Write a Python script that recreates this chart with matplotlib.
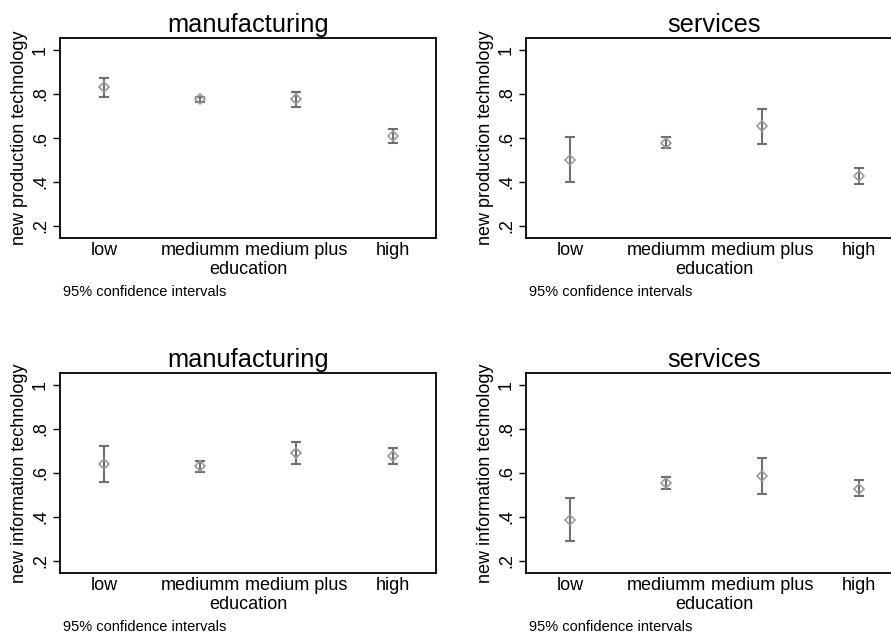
import matplotlib
matplotlib.use("Agg")
import matplotlib.pyplot as plt

plt.rcParams['font.family'] = ['Liberation Sans', 'DejaVu Sans']

# education categories
categories = ["low", "mediumm", "medium plus", "high"]
yticks = [0.2, 0.4, 0.6, 0.8, 1.0]
yticklabels = [".2", ".4", ".6", ".8", "1"]

# new production technology, manufacturing
prod_manu_mean = [0.830, 0.776, 0.776, 0.609]
prod_manu_lo = [0.786, 0.762, 0.742, 0.579]
prod_manu_hi = [0.874, 0.788, 0.810, 0.640]

# new production technology, services
prod_serv_mean = [0.500, 0.579, 0.653, 0.427]
prod_serv_lo = [0.401, 0.553, 0.574, 0.391]
prod_serv_hi = [0.603, 0.606, 0.733, 0.465]

# new information technology, manufacturing
info_manu_mean = [0.642, 0.630, 0.689, 0.678]
info_manu_lo = [0.559, 0.603, 0.639, 0.641]
info_manu_hi = [0.725, 0.656, 0.739, 0.713]

# new information technology, services
info_serv_mean = [0.387, 0.553, 0.586, 0.529]
info_serv_lo = [0.289, 0.526, 0.503, 0.494]
info_serv_hi = [0.487, 0.582, 0.669, 0.567]

W, H = 891, 639
fig = plt.figure(figsize=(W / 100, H / 100), dpi=100)


def panel(left_px, top_px, title, ylabel, mean, lo, hi):
    ax = fig.add_axes([left_px / W, 1 - (top_px + 200) / H, 376 / W, 200 / H])
    x = list(range(1, len(categories) + 1))
    err = [[m - l for m, l in zip(mean, lo)], [h - m for m, h in zip(mean, hi)]]
    ax.errorbar(x, mean, yerr=err, fmt='none', ecolor='#6f6f6f',
                elinewidth=1.5, capsize=3.4, capthick=1.5)
    ax.plot(x, mean, linestyle='none', marker='D', markersize=5.5,
            markerfacecolor='none', markeredgecolor='#9a9a9a', markeredgewidth=1.2)
    ax.set_xlim(0.543, 4.45)
    ax.set_ylim(0.145, 1.055)
    ax.set_xticks(x)
    ax.set_xticklabels(categories, fontsize=13)
    ax.tick_params(axis='x', length=0, pad=3)
    ax.set_yticks(yticks)
    ax.set_yticklabels(yticklabels, fontsize=13, rotation=90, va='center')
    ax.tick_params(axis='y', length=5, width=1, pad=3)
    for s in ax.spines.values():
        s.set_linewidth(1.3)
    ax.set_xlabel("education", fontsize=13, labelpad=1)
    ax.set_ylabel(ylabel, fontsize=13, labelpad=3)
    ax.set_title(title, fontsize=18.3, pad=4)
    fig.text((left_px + 3) / W, 1 - (top_px + 254) / H, "95% confidence intervals",
             fontsize=10.5, va='center', ha='left')
    return ax


panel(60, 38, "manufacturing", "new production technology",
      prod_manu_mean, prod_manu_lo, prod_manu_hi)
panel(526, 38, "services", "new production technology",
      prod_serv_mean, prod_serv_lo, prod_serv_hi)
panel(60, 373, "manufacturing", "new information technology",
      info_manu_mean, info_manu_lo, info_manu_hi)
panel(526, 373, "services", "new information technology",
      info_serv_mean, info_serv_lo, info_serv_hi)

fig.savefig("out.png", dpi=100)
